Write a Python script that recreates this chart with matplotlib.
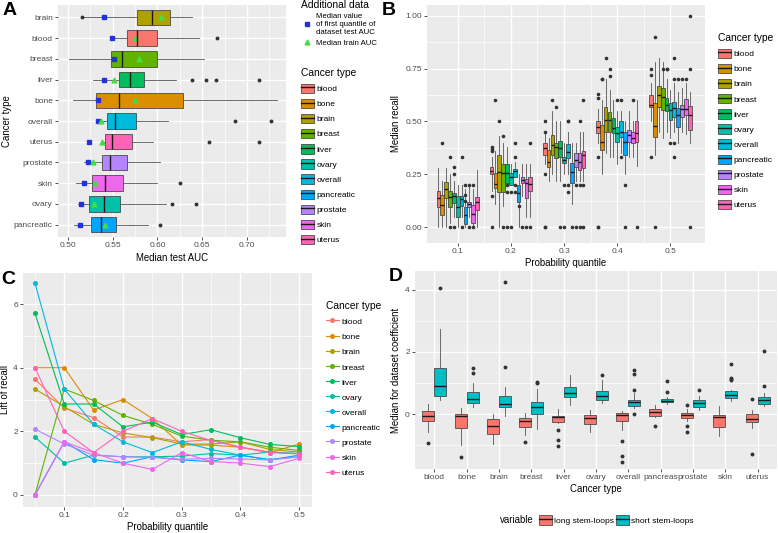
import matplotlib
matplotlib.use('Agg')
import matplotlib.pyplot as plt
from matplotlib.patches import Patch
from matplotlib.lines import Line2D
import numpy as np

plt.rcParams['font.family'] = ['Liberation Sans', 'DejaVu Sans']

# cancer types and ggplot hue colours
types = ['blood', 'bone', 'brain', 'breast', 'liver', 'ovary', 'overall',
         'pancreatic', 'prostate', 'skin', 'uterus']
colors = ['#F8766D', '#DB8E00', '#AEA200', '#64B200', '#00BD5C', '#00C1A7',
          '#00BADE', '#00A6FF', '#B385FF', '#EF67EB', '#FF63B6']
col = dict(zip(types, colors))

# ---- panel A: median test AUC (top to bottom)
a_cats = ['brain', 'blood', 'breast', 'liver', 'bone', 'overall', 'uterus',
          'prostate', 'skin', 'ovary', 'pancreatic']
a_lo = [0.517, 0.551, 0.501, 0.528, 0.506, 0.533, 0.538, 0.518, 0.509, 0.511, 0.507]
a_q1 = [0.577, 0.566, 0.548, 0.557, 0.531, 0.544, 0.541, 0.538, 0.527, 0.524, 0.526]
a_med = [0.594, 0.577, 0.561, 0.569, 0.557, 0.5525, 0.549, 0.547, 0.541, 0.540, 0.537]
a_q3 = [0.614, 0.600, 0.599, 0.585, 0.629, 0.576, 0.572, 0.566, 0.562, 0.558, 0.554]
a_hi = [0.639, 0.647, 0.652, 0.621, 0.733, 0.612, 0.595, 0.603, 0.599, 0.610, 0.589]
a_fliers = [[0.5156], [0.667], [], [0.639, 0.6545, 0.6657, 0.713], [],
            [0.687, 0.727], [0.6575, 0.713], [], [0.625], [0.616, 0.643], [0.603]]
a_first_q = [0.540, 0.5495, 0.551, 0.5406, 0.534, 0.5335, 0.524, 0.522, 0.5175, 0.515, 0.5138]
a_train = [0.604, 0.575, 0.579, 0.551, 0.575, 0.537, 0.538, 0.5276, 0.5305, 0.529, 0.5417]

# ---- panel B: median recall per probability quantile (rows) and cancer type (cols)
b_quant = [0.1, 0.2, 0.3, 0.4, 0.5]
b_q1 = [
    [0.094, 0.058, 0.137, 0.094, 0.117, 0.050, 0.100, 0.016, 0.094, 0.022, 0.082],
    [0.252, 0.184, 0.168, 0.168, 0.208, 0.200, 0.240, 0.120, 0.208, 0.137, 0.173],
    [0.342, 0.287, 0.342, 0.326, 0.330, 0.302, 0.326, 0.208, 0.287, 0.270, 0.280],
    [0.444, 0.365, 0.452, 0.452, 0.444, 0.405, 0.428, 0.342, 0.405, 0.397, 0.405],
    [0.567, 0.428, 0.567, 0.554, 0.551, 0.507, 0.523, 0.476, 0.523, 0.531, 0.460],
]
b_med = [
    [0.137, 0.105, 0.181, 0.145, 0.148, 0.098, 0.132, 0.058, 0.112, 0.063, 0.121],
    [0.268, 0.205, 0.263, 0.255, 0.255, 0.240, 0.264, 0.160, 0.223, 0.208, 0.205],
    [0.373, 0.310, 0.390, 0.380, 0.373, 0.318, 0.357, 0.263, 0.318, 0.310, 0.340],
    [0.476, 0.405, 0.507, 0.507, 0.468, 0.444, 0.452, 0.405, 0.436, 0.420, 0.444],
    [0.578, 0.479, 0.625, 0.617, 0.578, 0.554, 0.562, 0.531, 0.557, 0.557, 0.531],
]
b_q3 = [
    [0.172, 0.153, 0.216, 0.173, 0.160, 0.148, 0.148, 0.098, 0.121, 0.105, 0.145],
    [0.287, 0.255, 0.342, 0.300, 0.300, 0.255, 0.274, 0.200, 0.240, 0.230, 0.240],
    [0.400, 0.363, 0.436, 0.400, 0.410, 0.334, 0.395, 0.302, 0.350, 0.350, 0.360],
    [0.500, 0.483, 0.567, 0.546, 0.515, 0.476, 0.500, 0.452, 0.460, 0.452, 0.500],
    [0.625, 0.586, 0.668, 0.657, 0.610, 0.586, 0.594, 0.562, 0.578, 0.605, 0.573],
]
b_lo = [
    [0.0, 0.0, 0.0, 0.02, 0.05, 0.0, 0.05, 0.0, 0.05, 0.0, 0.0],
    [0.17, 0.11, 0.0, 0.10, 0.208, 0.20, 0.24, 0.0, 0.15, 0.05, 0.05],
    [0.30, 0.22, 0.25, 0.22, 0.22, 0.25, 0.25, 0.11, 0.22, 0.22, 0.22],
    [0.40, 0.25, 0.35, 0.33, 0.33, 0.30, 0.35, 0.25, 0.33, 0.33, 0.29],
    [0.50, 0.34, 0.45, 0.42, 0.45, 0.42, 0.45, 0.40, 0.45, 0.44, 0.40],
]
b_hi = [
    [0.28, 0.22, 0.28, 0.25, 0.22, 0.20, 0.20, 0.18, 0.20, 0.18, 0.27],
    [0.33, 0.36, 0.43, 0.40, 0.38, 0.30, 0.31, 0.25, 0.30, 0.30, 0.30],
    [0.45, 0.42, 0.55, 0.50, 0.50, 0.40, 0.45, 0.40, 0.40, 0.45, 0.45],
    [0.56, 0.60, 0.70, 0.65, 0.60, 0.55, 0.55, 0.50, 0.55, 0.50, 0.60],
    [0.68, 0.78, 0.80, 0.78, 0.70, 0.65, 0.68, 0.64, 0.66, 0.68, 0.64],
]
b_fliers = [
    [[], [0.40], [], [0.333, 0.0], [0.286, 0.25, 0.0], [], [0.333, 0.0],
     [0.2, 0.154, 0.125], [0.2, 0.0], [0.2, 0.0], []],
    [[0.38, 0.37, 0.36, 0.146, 0.0], [0.6], [0.5], [0.43, 0.0], [0.2, 0.167, 0.0],
     [0.167, 0.0], [0.40, 0.333, 0.2, 0.167], [0.1], [0.0], [0.0], [0.40, 0.0]],
    [[0.5, 0.45, 0.25, 0.0, 0.0], [], [0.6], [0.57], [0.0], [0.2, 0.0],
     [0.5, 0.5, 0.2, 0.167], [0.0], [0.2, 0.0], [0.5, 0.2, 0.0], [0.6, 0.2, 0.0]],
    [[0.63, 0.61, 0.333, 0.0, 0.0], [0.7, 0.7], [0.8], [0.75, 0.714], [], [0.6],
     [0.6, 0.333], [0.2, 0.0], [], [0.6], [0.0]],
    [[0.75, 0.72, 0.333], [0.9, 0.0], [], [0.75], [0.75, 0.75], [0.4],
     [0.8, 0.7, 0.4, 0.333], [0.7], [0.7], [0.7], [1.0, 0.75, 0.0]],
]

# ---- panel C: lift of recall
c_x = [0.05, 0.1, 0.15, 0.2, 0.25, 0.3, 0.35, 0.4, 0.45, 0.5]
c_lift = {
    'blood':      [3.64, 2.73, 2.43, 1.82, 1.82, 1.67, 1.74, 1.50, 1.35, 1.30],
    'bone':       [4.00, 4.00, 2.67, 3.00, 2.40, 1.57, 1.57, 1.50, 1.33, 1.60],
    'brain':      [3.33, 2.78, 2.22, 1.95, 1.80, 1.60, 1.60, 1.67, 1.43, 1.35],
    'breast':     [0.00, 3.33, 2.97, 2.50, 2.22, 1.85, 1.72, 1.67, 1.50, 1.40],
    'liver':      [5.71, 2.86, 2.86, 2.14, 2.29, 1.90, 2.05, 1.80, 1.59, 1.52],
    'ovary':      [1.82, 1.00, 1.25, 1.20, 1.20, 1.22, 1.30, 1.25, 1.35, 1.30],
    'overall':    [6.66, 3.33, 2.22, 1.67, 1.33, 1.67, 1.43, 1.25, 1.11, 1.20],
    'pancreatic': [0.00, 1.67, 1.11, 1.00, 1.20, 1.10, 1.05, 1.25, 1.10, 1.25],
    'prostate':   [2.07, 1.60, 1.25, 1.20, 1.18, 1.12, 1.15, 1.13, 1.10, 1.20],
    'skin':       [0.00, 1.67, 1.33, 1.00, 0.80, 1.33, 1.05, 1.00, 0.89, 1.15],
    'uterus':     [4.00, 2.00, 1.33, 2.00, 2.40, 2.00, 1.71, 1.50, 1.33, 1.29],
}

# ---- panel D: median dataset coefficient
d_cats = ['blood', 'bone', 'brain', 'breast', 'liver', 'ovary', 'overall',
          'pancreas', 'prostate', 'skin', 'uterus']
d_long_q1 = [-0.215, -0.46, -0.645, -0.41, -0.247, -0.32, -0.215, -0.054, -0.12, -0.41, -0.27]
d_long_med = [-0.054, -0.05, -0.39, -0.226, -0.11, -0.14, -0.04, 0.065, -0.04, -0.086, -0.17]
d_long_q3 = [0.107, 0.0, -0.16, -0.14, -0.054, -0.03, 0.04, 0.15, 0.02, -0.03, 0.0]
d_long_lo = [-0.59, -1.0, -0.95, -0.68, -0.3, -0.59, -0.52, -0.09, -0.22, -0.71, -0.45]
d_long_hi = [0.32, 0.2, 0.0, 0.04, 0.15, 0.13, 0.11, 0.29, 0.15, 0.27, 0.13]
d_long_fliers = [[-0.92], [-1.38], [], [-0.9], [-0.5, -0.84, -1.03], [],
                 [-0.88, -1.35, -1.55], [-0.37], [0.29, -0.37, -0.59], [], [0.5, -1.28]]
d_short_q1 = [0.58, 0.37, 0.215, -0.01, 0.54, 0.46, 0.26, 0.376, 0.237, 0.505, 0.34]
d_short_med = [0.90, 0.5, 0.32, 0.237, 0.69, 0.58, 0.376, 0.43, 0.365, 0.62, 0.45]
d_short_q3 = [1.47, 0.72, 0.58, 0.376, 0.86, 0.73, 0.46, 0.48, 0.45, 0.73, 0.55]
d_short_lo = [0.46, 0.24, -0.06, -0.49, 0.3, 0.37, 0.18, 0.32, 0.13, 0.43, 0.26]
d_short_hi = [2.73, 0.99, 0.86, 0.8, 1.26, 1.1, 0.67, 0.55, 0.59, 0.76, 0.69]
d_short_fliers = [[4.07], [1.33, 1.5], [1.53, 4.25], [1.0, 1.03], [], [1.26],
                  [0.0, 0.76, 1.29, 1.43], [0.72, 1.07], [0.77],
                  [1.1, 1.13, 1.16, 1.6], [0.9, 2.02]]
d_colors = ['#F8766D', '#00BFC4']
d_labels = ['long stem-loops', 'short stem-loops']

W, H = 778, 533
fig = plt.figure(figsize=(W / 100, H / 100), dpi=100)

TICK = 6.0
LAB = 6.9
LEG = 6.0
LEGT = 7.4


def px_axes(l, t, r, b):
    return fig.add_axes([l / W, 1 - b / H, (r - l) / W, (b - t) / H])


def style(ax):
    ax.set_facecolor('#EBEBEB')
    for s in ax.spines.values():
        s.set_visible(False)
    ax.grid(which='major', color='white', lw=1.0)
    ax.grid(which='minor', color='white', lw=0.5)
    ax.set_axisbelow(True)
    ax.tick_params(which='major', length=2.2, width=0.6, color='#333333',
                   labelsize=TICK, labelcolor='#4D4D4D', pad=1.5)
    ax.tick_params(which='minor', length=0)


def make_stats(q1, med, q3, lo, hi, fl):
    return [dict(q1=a, med=b, q3=c, whislo=d, whishi=e, fliers=f)
            for a, b, c, d, e, f in zip(q1, med, q3, lo, hi, fl)]


def draw_boxes(ax, st, pos, width, cols, orientation='vertical', ms=2.6):
    bp = ax.bxp(st, positions=pos, widths=width, patch_artist=True, showcaps=False,
                orientation=orientation,
                boxprops=dict(edgecolor='#333333', linewidth=0.5),
                medianprops=dict(color='#1a1a1a', linewidth=1.0),
                whiskerprops=dict(color='#555555', linewidth=0.6),
                flierprops=dict(marker='o', markerfacecolor='#333333',
                                markeredgecolor='none', markersize=ms))
    for patch, c in zip(bp['boxes'], cols):
        patch.set_facecolor(c)


def box_handle(c):
    return (Patch(facecolor=c, edgecolor='#333333', linewidth=0.5),
            Line2D([], [], color='#1a1a1a', lw=1.0))


lab_kw = dict(fontsize=LAB, color='black')
leg_kw = dict(frameon=False, fontsize=LEG, title_fontsize=LEGT, alignment='left',
              handlelength=1.5, handleheight=1.35, handletextpad=0.4,
              labelspacing=0.68, borderpad=0.0, borderaxespad=0)

# ================= A
axA = px_axes(58, 5, 286, 237)
style(axA)
pos_a = np.arange(len(a_cats), 0, -1)
draw_boxes(axA, make_stats(a_q1, a_med, a_q3, a_lo, a_hi, a_fliers), pos_a, 0.75,
           [col[c] for c in a_cats], orientation='horizontal', ms=2.8)
axA.plot(a_first_q, pos_a, 's', color='#2233DD', ms=3.2, ls='none')
axA.plot(a_train, pos_a, '^', color='#44DD44', ms=3.5, ls='none')
axA.set_xlim(0.489, 0.7436)
axA.set_ylim(0.4, 11.6)
axA.set_xticks([0.50, 0.55, 0.60, 0.65, 0.70])
axA.set_xticklabels(['0.50', '0.55', '0.60', '0.65', '0.70'])
axA.set_xticks([0.525, 0.575, 0.625, 0.675, 0.725], minor=True)
axA.set_yticks(pos_a)
axA.set_yticklabels(a_cats)
axA.set_xlabel('Median test AUC', labelpad=3, **lab_kw)
axA.set_ylabel('Cancer type', labelpad=1, **lab_kw)

kwA1 = dict(leg_kw)
kwA1.update(fontsize=5.6, labelspacing=0.35, handleheight=1.0)
fig.legend([Line2D([], [], marker='s', color='#2233DD', ls='none', ms=3.2),
            Line2D([], [], marker='^', color='#44DD44', ls='none', ms=3.5)],
           ['Median value\nof first quantile of\ndataset test AUC', 'Median train AUC'],
           title='Additional data', loc='upper left', bbox_to_anchor=(301 / W, 1 - 0 / H),
           **kwA1)
fig.legend([box_handle(c) for c in colors], types, title='Cancer type',
           loc='upper left', bbox_to_anchor=(301 / W, 1 - 68 / H), **leg_kw)

# ================= B
axB = px_axes(427, 5, 705, 243)
style(axB)
n = len(types)
dw = 0.08 / n
for g, q in enumerate(b_quant):
    pos = [q + (i - (n - 1) / 2) * dw for i in range(n)]
    draw_boxes(axB, make_stats(b_q1[g], b_med[g], b_q3[g], b_lo[g], b_hi[g], b_fliers[g]),
               pos, dw * 0.95, colors)
axB.set_xlim(0.0423, 0.565)
axB.set_ylim(-0.074, 1.05)
axB.set_xticks(b_quant)
axB.set_xticklabels(['0.1', '0.2', '0.3', '0.4', '0.5'])
axB.set_xticks([0.15, 0.25, 0.35, 0.45], minor=True)
axB.set_yticks([0, 0.25, 0.5, 0.75, 1.0])
axB.set_yticklabels(['0.00', '0.25', '0.50', '0.75', '1.00'])
axB.set_yticks([0.125, 0.375, 0.625, 0.875], minor=True)
axB.set_xlabel('Probability quantile', labelpad=2, **lab_kw)
axB.set_ylabel('Median recall', labelpad=3, **lab_kw)
fig.legend([box_handle(c) for c in colors], types, title='Cancer type',
           loc='upper left', bbox_to_anchor=(718 / W, 1 - 33 / H), **leg_kw)

# ================= C
axC = px_axes(23, 273, 312, 507)
style(axC)
for t in types:
    axC.plot(c_x, c_lift[t], '-o', color=col[t], lw=0.8, ms=2.6)
axC.set_xlim(0.0296, 0.522)
axC.set_ylim(-0.38, 6.98)
axC.set_xticks([0.1, 0.2, 0.3, 0.4, 0.5])
axC.set_xticklabels(['0.1', '0.2', '0.3', '0.4', '0.5'])
axC.set_xticks([0.05, 0.15, 0.25, 0.35, 0.45], minor=True)
axC.set_yticks([0, 2, 4, 6])
axC.set_yticks([1, 3, 5], minor=True)
axC.set_xlabel('Probability quantile', labelpad=2, **lab_kw)
axC.set_ylabel('Lift of recall', labelpad=2, **lab_kw)
fig.legend([Line2D([], [], color=c, marker='o', lw=0.8, ms=2.6) for c in colors], types,
           title='Cancer type', loc='upper left', bbox_to_anchor=(326 / W, 1 - 301 / H),
           **leg_kw)

# ================= D
axD = px_axes(415, 271, 777, 469)
style(axD)
xd = np.arange(len(d_cats))
draw_boxes(axD, make_stats(d_long_q1, d_long_med, d_long_q3, d_long_lo, d_long_hi, d_long_fliers),
           xd - 0.1875, 0.37, [d_colors[0]] * len(d_cats), ms=2.8)
draw_boxes(axD, make_stats(d_short_q1, d_short_med, d_short_q3, d_short_lo, d_short_hi, d_short_fliers),
           xd + 0.1875, 0.37, [d_colors[1]] * len(d_cats), ms=2.8)
axD.set_xlim(-0.6, 10.6)
axD.set_ylim(-1.77, 4.61)
axD.set_xticks(xd)
axD.set_xticklabels(d_cats)
axD.set_yticks([0, 2, 4])
axD.set_yticks([-1, 1, 3], minor=True)
axD.set_xlabel('Cancer type', labelpad=2, **lab_kw)
axD.set_ylabel('Median for dataset coefficient', labelpad=3, **lab_kw)
fig.text(500 / W, 1 - 520 / H, 'variable', fontsize=LAB, va='center', ha='left')
kwD = dict(leg_kw)
kwD.update(handletextpad=0.3, columnspacing=0.3)
fig.legend([box_handle(c) for c in d_colors], d_labels, loc='center left',
           bbox_to_anchor=(539 / W, 1 - 520 / H), ncol=2, **kwD)

# panel letters
for x, y, s in [(3, 2, 'A'), (382, 2, 'B'), (1, 271, 'C'), (389, 268, 'D')]:
    fig.text(x / W, 1 - y / H, s, fontsize=14, fontweight='bold', va='top', ha='left')

fig.savefig('out.png', dpi=100)
